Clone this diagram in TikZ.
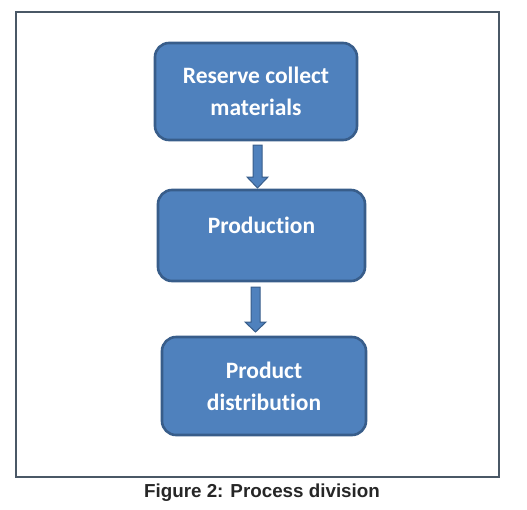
\documentclass[tikz,border=0pt]{standalone}
\usepackage{fontspec}
\setmainfont[Ligatures=NoCommon]{Carlito}
\newfontfamily\capfont{Liberation Sans}
\definecolor{boxfill}{HTML}{4F81BD}
\definecolor{boxline}{HTML}{385D8A}
\definecolor{framecol}{HTML}{4A5866}
\begin{document}
\begin{tikzpicture}[x=1pt,y=-1pt,
  procbox/.style={draw=boxline, fill=boxfill, line width=2.6pt, rounded corners=14pt,
    text=white, font=\bfseries\fontsize{23.5}{32}\selectfont, align=center, inner sep=0pt},
  blockarrow/.style={draw=boxline, fill=boxfill, line width=1pt, line join=miter}]
\useasboundingbox (0,0) rectangle (527,509);
\node[draw=framecol, line width=1.2pt, minimum width=483pt, minimum height=465pt, inner sep=0pt] (frame) at (257.5,244.5) {};
\node[procbox, minimum width=202pt, minimum height=97pt] (b1) at (256,91.5) {Reserve collect\\materials};
\node[procbox, minimum width=207pt, minimum height=91pt, text depth=20pt] (b2) at (261.5,235.5) {Production};
\node[procbox, minimum width=204pt, minimum height=98pt] (b3) at (264,386) {Product\\distribution};
\coordinate (a1s) at (257.5,145);
\coordinate (a2s) at (255.5,287);
\draw[blockarrow] (a1s) ++(-4.5,0) -- ++(9,0) -- ++(0,32) -- ++(6,0) -- ++(-10.5,11) -- ++(-10.5,-11) -- ++(6,0) -- cycle;
\draw[blockarrow] (a2s) ++(-4.5,0) -- ++(9,0) -- ++(0,35) -- ++(6,0) -- ++(-10.5,10) -- ++(-10.5,-10) -- ++(6,0) -- cycle;
\node[font=\capfont\bfseries\fontsize{18.8}{22}\selectfont, text=black!85, inner sep=0pt] (cap) at (262,492.5) {Figure 2: Process division};
\end{tikzpicture}
\end{document}
